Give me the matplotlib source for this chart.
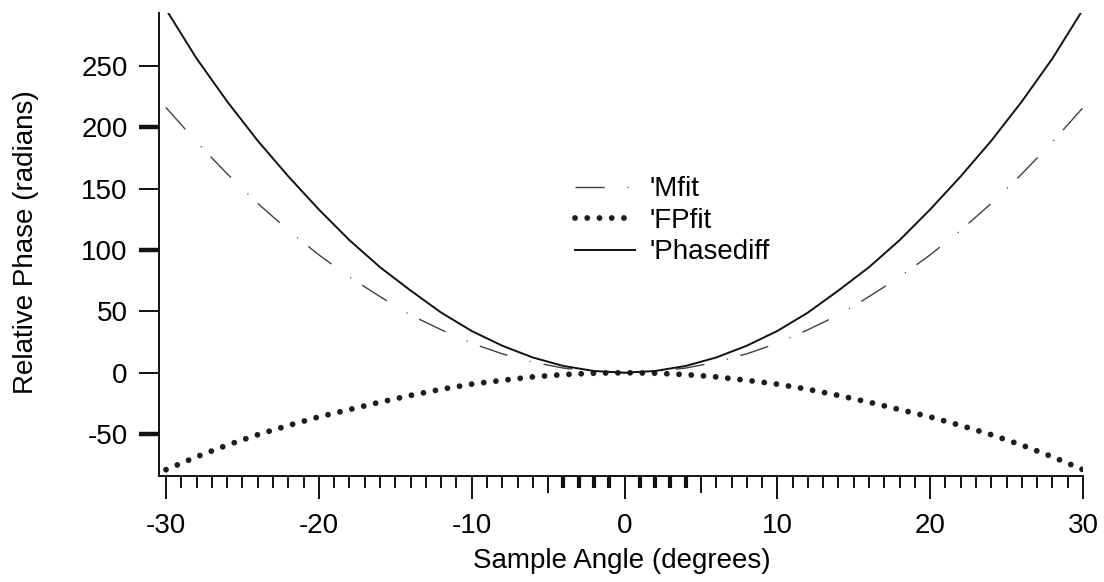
import matplotlib
matplotlib.use("Agg")
import matplotlib.pyplot as plt
from matplotlib.ticker import FixedLocator

# values
angle = [-30, -28, -26, -24, -22, -20, -18, -16, -14, -12, -10, -8, -6, -4, -2, 0,
         2, 4, 6, 8, 10, 12, 14, 16, 18, 20, 22, 24, 26, 28, 30]
mfit = [216, 188, 162, 138, 116, 96, 78, 62, 47, 35, 24, 15.4, 8.6, 3.8, 1.0, 0,
        1.0, 3.8, 8.6, 15.4, 24, 35, 47, 62, 78, 96, 116, 138, 162, 188, 216]
fpfit = [-79, -68.5, -59, -50.5, -43, -36, -30, -24, -18.5, -13.5, -9.3, -6.2, -3.4, -1.5, -0.4, 0,
         -0.4, -1.5, -3.4, -6.2, -9.3, -13.5, -18.5, -24, -30, -36, -43, -50.5, -59, -68.5, -79]
phasediff = [296, 256, 221, 189, 160, 133, 108, 86, 67, 49, 34, 22, 12.4, 5.5, 1.4, 0,
             1.4, 5.5, 12.4, 22, 34, 49, 67, 86, 108, 133, 160, 189, 221, 256, 296]

x_major = [-30, -20, -10, 0, 10, 20, 30]
y_major = [-50, 0, 50, 100, 150, 200, 250]

plt.rcParams['font.family'] = ['Liberation Sans', 'DejaVu Sans']
plt.rcParams['axes.unicode_minus'] = False
plt.rcParams['lines.scale_dashes'] = False

fig = plt.figure(figsize=(11.04, 5.82), dpi=100)
ax = fig.add_axes([0.144, 0.182, 0.837, 0.796])

ax.plot(angle, mfit, color='#404040', lw=1.0,
        linestyle=(0, (21, 16.5, 0.8, 9.5)), label="'Mfit")
ax.plot(angle, fpfit, color='#1e1e1e', lw=4.2,
        linestyle=(0, (0.01, 8.8)), dash_capstyle='round', label="'FPfit")
ax.plot(angle, phasediff, color='#111111', lw=1.4, label="'Phasediff")

ax.set_xlim(-30.46, 30.0)
ax.set_ylim(-84.2, 293.2)

for side in ['top', 'right']:
    ax.spines[side].set_visible(False)
for side in ['left', 'bottom']:
    ax.spines[side].set_linewidth(1.4)
    ax.spines[side].set_color('#111111')

ax.xaxis.set_major_locator(FixedLocator(x_major))
minor_locs = [v for v in range(-29, 30) if v % 10 != 0]
ax.xaxis.set_minor_locator(FixedLocator(minor_locs))
ax.yaxis.set_major_locator(FixedLocator(y_major))

ax.tick_params(axis='x', which='major', direction='out', length=16.5, width=1.4,
               pad=10, labelsize=20, color='#111111')
ax.tick_params(axis='x', which='minor', direction='out', length=8.6, width=1.4,
               color='#111111')
ax.tick_params(axis='y', which='major', direction='out', length=14.4, width=1.4,
               pad=8, labelsize=20, color='#111111')

# mid-length ticks at +-5, heavy ticks near the centre
for tick, v in zip(ax.xaxis.get_minor_ticks(len(minor_locs)), minor_locs):
    if abs(v) == 5:
        tick.tick1line.set_markersize(12.3)
    if abs(v) <= 4:
        tick.tick1line.set_markeredgewidth(3.0)

for tick, v in zip(ax.yaxis.get_major_ticks(len(y_major)), y_major):
    if v in (-50, 100, 200):
        tick.tick1line.set_markeredgewidth(3.2)

ax.set_xlabel('Sample Angle (degrees)', fontsize=20)
ax.set_ylabel('Relative Phase (radians)', fontsize=20)
ax.xaxis.set_label_coords(0.501, -0.155)
ax.yaxis.set_label_coords(-0.130, 0.506)

ax.legend(loc='upper left', bbox_to_anchor=(0.435, 0.677), frameon=False,
          fontsize=20, borderpad=0, handlelength=2.15, handletextpad=0.55,
          labelspacing=0.2)

fig.savefig('out.png', dpi=100, facecolor='white')
